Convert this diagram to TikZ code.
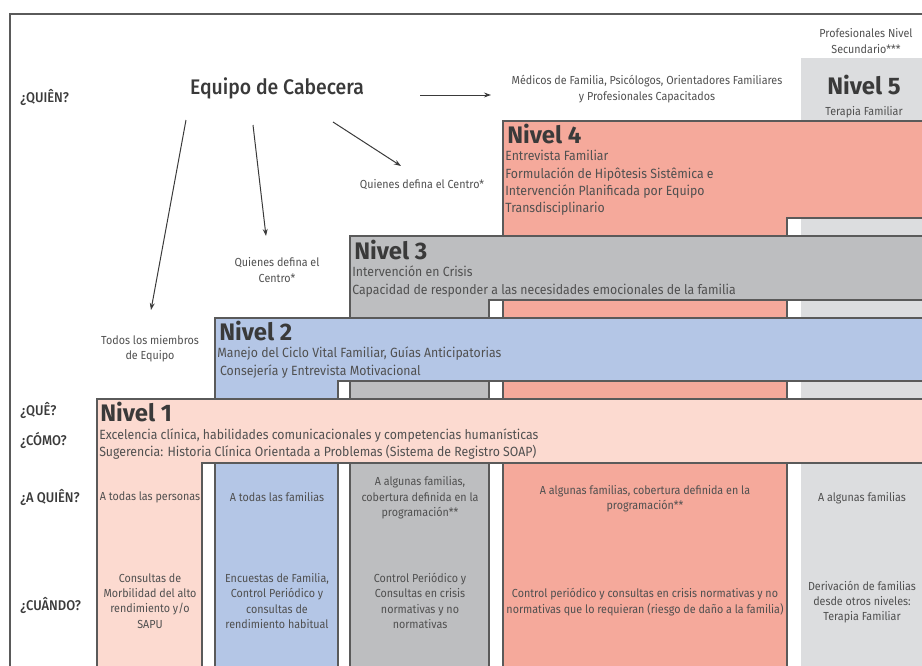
\documentclass[tikz,border=0pt]{standalone}
\usepackage{fontspec}
\setmainfont{Fira Sans}[FakeStretch=0.92]
\newfontfamily\firamed{Fira Sans Medium}[FakeStretch=0.92]
\newfontfamily\firatitle{Fira Sans}
\usetikzlibrary{arrows.meta,positioning}
\definecolor{nivuno}{HTML}{FCDAD0}
\definecolor{nivdos}{HTML}{B4C6E6}
\definecolor{nivtres}{HTML}{BDBEC0}
\definecolor{nivcuatro}{HTML}{F5A99B}
\definecolor{nivcinco}{HTML}{DCDDDF}
\definecolor{linegrey}{HTML}{5A5A5A}
\definecolor{titlegrey}{HTML}{3A3A3A}
\definecolor{textgrey}{HTML}{505050}
\tikzstyle{frame}=[draw=linegrey, line width=0.35mm]
\tikzstyle{level}=[draw=linegrey, line width=0.3mm]
\tikzstyle{title}=[font=\fontsize{17}{19}\selectfont\firatitle\bfseries, text=titlegrey, inner sep=0pt, anchor=west]
\tikzstyle{body}=[font=\fontsize{9.5}{12.4}\selectfont, text=textgrey, inner sep=0pt, anchor=north west, align=left]
\tikzstyle{small}=[font=\fontsize{8.3}{10.9}\selectfont, text=textgrey, inner sep=0pt, align=center]
\tikzstyle{ask}=[font=\fontsize{10}{12}\selectfont\firamed, text=titlegrey, inner sep=0pt, anchor=west]
\tikzstyle{arr}=[draw=titlegrey, line width=0.25mm, -{Stealth[length=5pt,width=3.5pt]}]

\begin{document}
\begin{tikzpicture}[x=0.25mm, y=-0.25mm]
  \useasboundingbox (0,0) rectangle (922,665);
  \clip (0,0) rectangle (922,665);

  % outer frame
  \draw[frame] (10,680) -- (10,14) -- (940,14);

  % nivel 5 column, no border
  \fill[nivcinco] (801,58) rectangle (940,680);

  % levels 4..1, back to front
  \foreach \l/\r/\t/\b/\col in {503/787/121/218/nivcuatro, 350/489/236/300/nivtres, 215/338/318/381/nivdos, 97/202/399/463/nivuno}
    \draw[level, fill=\col] (\l,680) -- (\l,\t) -- (940,\t) -- (940,\b) -- (\r,\b) -- (\r,680) -- cycle;

  % titles
  \foreach \x/\y/\name/\label in {507/134/tcuatro/4, 354/250/ttres/3, 219/331/tdos/2, 100/412/tuno/1}
    \node[title] (\name) at (\x,\y) {Nivel \label};
  \node[title, anchor=center] (tcinco) at (864,85) {Nivel 5};

  % level contents
  \node[body] (bcuatro) at (505,150) {Entrevista Familiar\\Formulación de Hipôtesis Sistêmica e\\Intervención Planificada por Equipo\\Transdisciplinario};
  \node[body] (btres) at (352,266) {Intervención en Crisis\\Capacidad de responder a las necesidades emocionales de la familia};
  \node[body] (bdos) at (217,347) {Manejo del Ciclo Vital Familiar, Guías Anticipatorias\\\hspace{2pt}Consejería y Entrevista Motivacional};
  \node[body, font=\fontsize{9.5}{11.4}\selectfont] (buno) at (99,429) {Excelencia clínica, habilidades comunicacionales y competencias humanísticas\\Sugerencia: Historia Clínica Orientada a Problemas (Sistema de Registro SOAP)};

  % row questions
  \foreach \y/\name/\label in {97/quien/¿QUIÊN?, 410/que/¿QUÊ?, 440/como/¿CÓMO?, 497/aquien/¿A QUIÊN?, 605/cuando/¿CUÂNDO?}
    \node[ask] (\name) at (20,\y) {\label};

  % who
  \node[font=\fontsize{15}{17}\selectfont\firamed, text=titlegrey, inner sep=1pt] (equipo) at (277,88) {Equipo de Cabecera};
  \node[small] (medicos) at (647,89) {Médicos de Familia, Psicólogos, Orientadores Familiares\\y Profesionales Capacitados};
  \node[small] (profesionales) at (866,41) {Profesionales Nivel\\Secundario***};
  \node[small] (terapia) at (864,112) {Terapia Familiar};
  \node[small] (centrouno) at (422,185) {Quienes defina el Centro*};
  \node[small] (centrodos) at (277,270) {Quienes defina el\\Centro*};
  \node[small] (todos) at (150,349) {Todos los miembros\\de Equipo};

  \coordinate (sa) at (186,120); \coordinate (ea) at (151,310);
  \coordinate (sb) at (253,125); \coordinate (eb) at (266,236);
  \coordinate (sc) at (333,122); \coordinate (ec) at (401,166);
  \coordinate (sd) at (420,95);  \coordinate (ed) at (491,95);
  \foreach \source/\dest in {sa/ea, sb/eb, sc/ec, sd/ed}
    \draw[arr] (\source) -- (\dest);

  % to whom
  \foreach \x/\y/\name/\label in {150/497/auno/{A todas las personas}, 277/497/ados/{A todas las familias}, 420/498/atres/{A algunas familias,\\cobertura definida en la\\programación**}, 645/499/acuatro/{A algunas familias, cobertura definida en la\\programación**}, 862/498/acinco/{A algunas familias}}
    \node[small] (\name) at (\x,\y) {\label};

  % when
  \foreach \x/\y/\name/\label in {150/601/cuno/{Consultas de\\Morbilidad del alto\\rendimiento y/o\\SAPU}, 277/601/cdos/{Encuestas de Familia,\\Control Periódico y\\consultas de\\rendimiento habitual}, 420/601/ctres/{Control Periódico y\\Consultas en crisis\\normativas y no\\normativas}, 645/602/ccuatro/{Control periódico y consultas en crisis normativas y no\\normativas que lo requieran (riesgo de daño a la familia)}, 862/602/ccinco/{Derivación de familias\\desde otros niveles:\\Terapia Familiar}}
    \node[small] (\name) at (\x,\y) {\label};
\end{tikzpicture}
\end{document}
